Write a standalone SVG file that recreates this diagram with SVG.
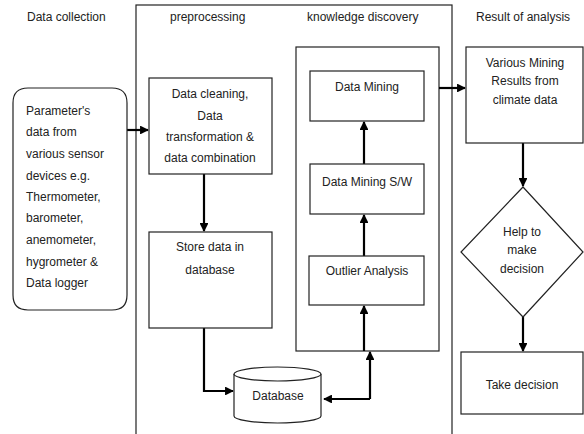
<svg xmlns="http://www.w3.org/2000/svg" width="584" height="434" viewBox="0 0 584 434">
<style>
text{font-family:"Liberation Sans",Arial,sans-serif;font-size:12px;fill:#222}
.c{text-anchor:middle}
.box{fill:#fff;stroke:#222;stroke-width:1.2}
.frame{fill:none;stroke:#222;stroke-width:1.2}
.con{fill:none;stroke:#000;stroke-width:2.2;marker-end:url(#ah)}
</style>
<defs>
<marker id="ah" viewBox="0 0 10 10" refX="9" refY="5" markerWidth="4" markerHeight="4" orient="auto" markerUnits="strokeWidth">
<path d="M0,0 L10,5 L0,10 z" fill="#000"/>
</marker>
</defs>
<rect width="584" height="434" fill="#fff"/>
<g id="headers">
<text x="27" y="21">Data collection</text>
<text x="170" y="21">preprocessing</text>
<text x="307" y="21">knowledge discovery</text>
<text x="476" y="21">Result of analysis</text>
</g>
<g id="frames">
<rect class="frame" x="136" y="5" width="316" height="440"/>
<rect class="frame" x="296" y="47" width="143" height="304"/>
</g>
<g id="connectors">
<path class="con" d="M127,130 H148"/>
<path class="con" d="M204,174 V231"/>
<path class="con" d="M204,328 V391 H233"/>
<path class="con" d="M370,399 H324"/>
<path class="con" d="M370,399 V352"/>
<path class="con" d="M364,351 V306"/>
<path class="con" d="M364,256 V215"/>
<path class="con" d="M364,164 V122"/>
<path class="con" d="M439,88 H465"/>
<path class="con" d="M523,143 V186"/>
<path class="con" d="M523,317 V351"/>
</g>
<g id="sensors">
<path class="box" d="M28,88 H112 Q127,88 127,103 V295 Q127,310 112,310 H28 Q13,310 13,295 V103 Q13,88 28,88 Z"/>
<text x="26" y="115">Parameter's</text>
<text x="26" y="136">data from</text>
<text x="26" y="158">various sensor</text>
<text x="26" y="180">devices e.g.</text>
<text x="26" y="201">Thermometer,</text>
<text x="26" y="222">barometer,</text>
<text x="26" y="244">anemometer,</text>
<text x="26" y="266">hygrometer &amp;</text>
<text x="26" y="287">Data logger</text>
</g>
<g id="cleaning">
<rect class="box" x="149" y="78" width="123" height="96"/>
<text class="c" x="210" y="98">Data cleaning,</text>
<text class="c" x="210" y="120">Data</text>
<text class="c" x="210" y="141">transformation &amp;</text>
<text class="c" x="210" y="162">data combination</text>
</g>
<g id="store">
<rect class="box" x="149" y="232" width="123" height="96"/>
<text class="c" x="210" y="251">Store data in</text>
<text class="c" x="210" y="274">database</text>
</g>
<g id="database">
<path class="box" d="M234,374 V416 A43.5,7 0 0 0 321,416 V374"/>
<ellipse class="box" cx="277.5" cy="374" rx="43.5" ry="7"/>
<text class="c" x="278" y="400">Database</text>
</g>
<g id="datamining">
<rect class="box" x="310" y="71" width="114" height="50"/>
<text class="c" x="367" y="91">Data Mining</text>
</g>
<g id="software">
<rect class="box" x="310" y="164" width="114" height="50"/>
<text class="c" x="367" y="186">Data Mining S/W</text>
</g>
<g id="outlier">
<rect class="box" x="309" y="256" width="115" height="49"/>
<text class="c" x="367" y="275">Outlier Analysis</text>
</g>
<g id="results">
<rect class="box" x="466" y="47" width="117" height="96"/>
<text class="c" x="525" y="67">Various Mining</text>
<text class="c" x="525" y="85">Results from</text>
<text class="c" x="525" y="104">climate data</text>
</g>
<g id="decision">
<polygon class="box" points="523,187 583,252 523,317 461,252"/>
<text class="c" x="522" y="236">Help to</text>
<text class="c" x="522" y="254">make</text>
<text class="c" x="522" y="273">decision</text>
</g>
<g id="take">
<rect class="box" x="461" y="352" width="122" height="62"/>
<text class="c" x="522" y="389">Take decision</text>
</g>
</svg>
